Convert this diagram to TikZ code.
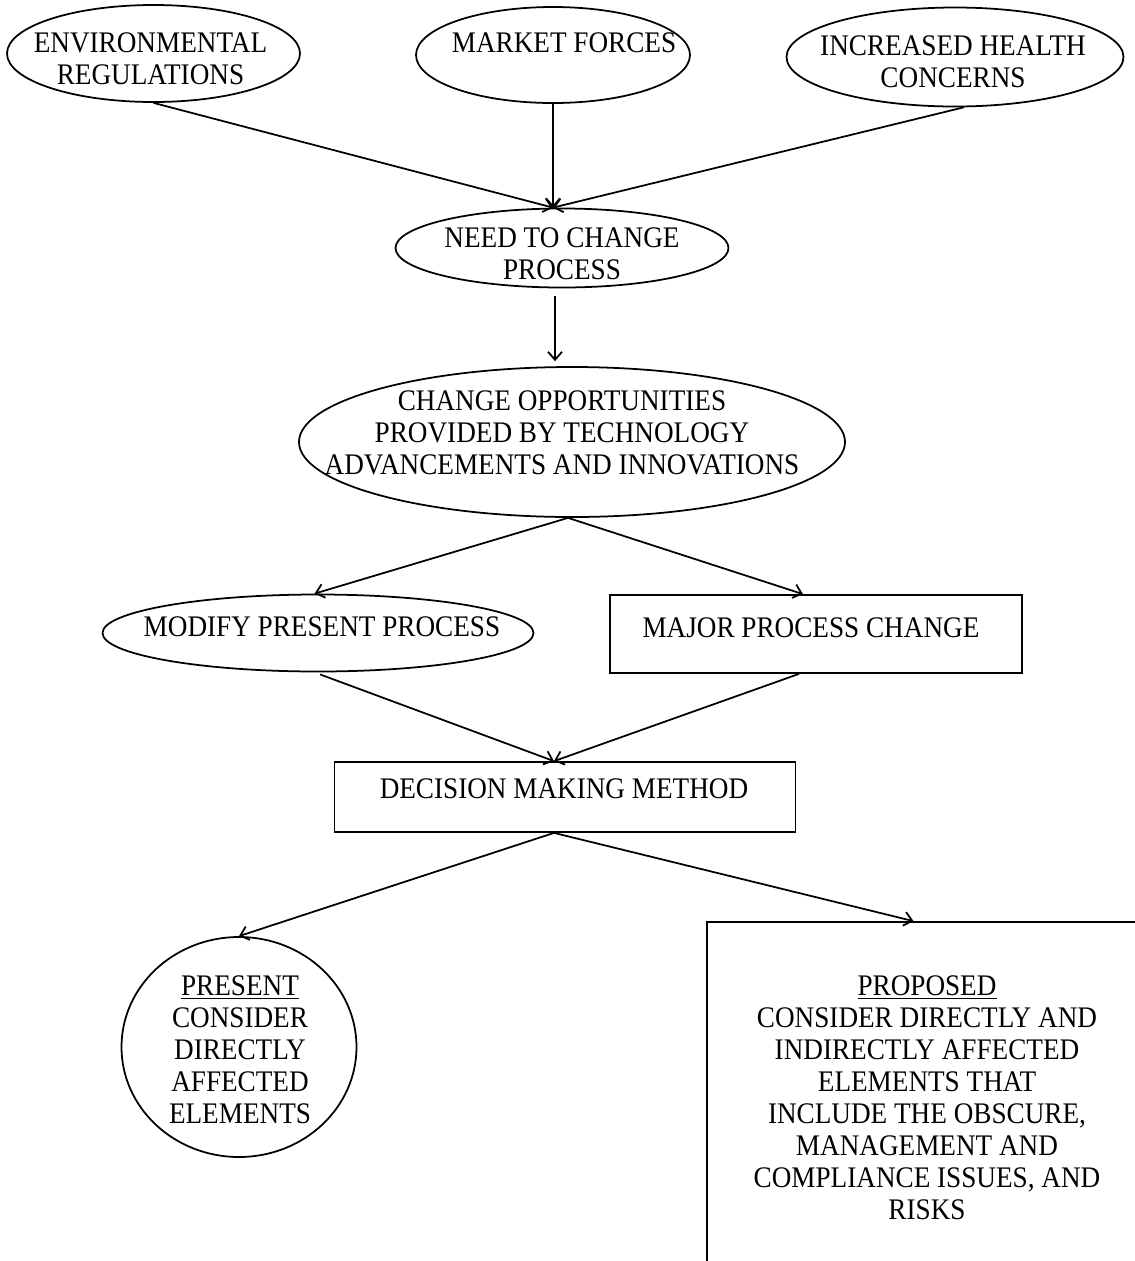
\documentclass[tikz,border=0pt]{standalone}
\usepackage{fontspec}
\setmainfont[FakeStretch=0.91]{Liberation Serif}
\usetikzlibrary{shapes.geometric,arrows.meta}

\begin{document}
\begin{tikzpicture}[
  oval/.style={draw,ellipse,line width=1pt,inner sep=0pt},
  box/.style={draw,rectangle,line width=1pt,inner sep=0pt},
  txt/.style={align=center,font=\fontsize{17pt}{18.2pt}\selectfont},
  arr/.style={line width=1pt,-{Straight Barb[length=1.6mm,width=2.8mm]}}]
\useasboundingbox (0,0) rectangle (22.7,-25.22);
\node[oval,minimum width=5.86cm,minimum height=1.94cm,
  label={[txt,xshift=-0.06cm,yshift=-0.11cm]center:ENVIRONMENTAL\\REGULATIONS}] (env) at (3.07,-1.07) {};
\node[oval,minimum width=5.48cm,minimum height=1.92cm,
  label={[txt,xshift=0.22cm,yshift=0.24cm]center:MARKET FORCES}] (mkt) at (11.06,-1.10) {};
\node[oval,minimum width=6.74cm,minimum height=1.98cm,
  label={[txt,xshift=-0.04cm,yshift=-0.10cm]center:INCREASED HEALTH\\CONCERNS}] (inc) at (19.10,-1.14) {};
\node[oval,minimum width=6.66cm,minimum height=1.58cm,
  label={[txt,yshift=-0.12cm]center:NEED TO CHANGE\\PROCESS}] (need) at (11.24,-4.96) {};
\node[oval,minimum width=10.92cm,minimum height=3.0cm,
  label={[txt,xshift=-0.2cm,yshift=0.18cm]center:CHANGE OPPORTUNITIES\\PROVIDED BY TECHNOLOGY\\ADVANCEMENTS AND INNOVATIONS}] (chg) at (11.44,-8.84) {};
\node[oval,minimum width=8.62cm,minimum height=1.54cm,
  label={[txt,xshift=0.08cm,yshift=0.12cm]center:MODIFY PRESENT PROCESS}] (mod) at (6.36,-12.66) {};
\node[box,minimum width=8.24cm,minimum height=1.56cm,
  label={[txt,xshift=-0.1cm,yshift=0.12cm]center:MAJOR PROCESS CHANGE}] (maj) at (16.32,-12.68) {};
\node[box,minimum width=9.22cm,minimum height=1.40cm,
  label={[txt,xshift=-0.02cm,yshift=0.16cm]center:DECISION MAKING METHOD}] (dec) at (11.30,-15.94) {};
\node[oval,minimum width=4.70cm,minimum height=4.40cm,
  label={[txt,xshift=0.02cm,yshift=-0.06cm]center:\underline{PRESENT}\\CONSIDER\\DIRECTLY\\AFFECTED\\ELEMENTS}] (pres) at (4.78,-20.94) {};
\node[box,minimum width=8.66cm,minimum height=6.82cm,
  label={[txt,xshift=0.07cm,yshift=-0.11cm]center:{\underline{PROPOSED}\\CONSIDER DIRECTLY AND\\INDIRECTLY AFFECTED\\ELEMENTS THAT\\INCLUDE THE OBSCURE,\\MANAGEMENT AND\\COMPLIANCE ISSUES, AND\\RISKS}}] (prop) at (18.47,-21.85) {};
\draw[arr] (env.south) -- ([xshift=-0.18cm]need.north);
\draw[arr] (mkt.south) -- ([xshift=-0.18cm]need.north);
\draw[arr] (inc.-80) -- ([xshift=-0.18cm]need.north);
\draw[arr,shorten <=0.16cm,shorten >=0.1cm] ([xshift=-0.14cm]need.south) -- ([xshift=-0.14cm]need.south |- chg.north);
\draw[arr] (chg.-93) -- (mod.95);
\draw[arr] (chg.-93) -- ([xshift=-0.26cm]maj.north);
\draw[arr,shorten <=0.12cm] (mod.-95) -- ([xshift=-0.22cm]dec.north);
\draw[arr] ([xshift=-0.34cm]maj.south) -- ([xshift=-0.22cm]dec.north);
\draw[arr] ([xshift=-0.22cm]dec.south) -- (pres.north);
\draw[arr] ([xshift=-0.22cm]dec.south) -- ([xshift=-0.2cm]prop.north);
\end{tikzpicture}
\end{document}
